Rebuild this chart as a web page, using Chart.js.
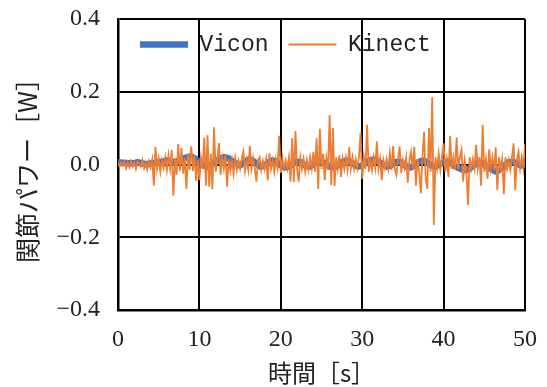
<!DOCTYPE html>
<html>
<head>
<meta charset="utf-8">
<script src="https://cdn.jsdelivr.net/npm/chart.js@4/dist/chart.umd.min.js"></script>
<style>
html,body{margin:0;padding:0;background:#fff;}
#wrap{width:547px;height:387px;}
</style>
</head>
<body>
<div id="wrap"><canvas id="c" width="547" height="387"></canvas></div>
<script>
// ---- data ----
const seriesNames = ["Vicon", "Kinect"];
const xTicks = [0, 10, 20, 30, 40, 50];
const yTicks = [-0.4, -0.2, 0.0, 0.2, 0.4];
const xTitle = "時間［s］";
const yTitle = "関節パワー［W］";

// Vicon: one value every 0.5 s, 0 .. 50 s
const viconStep = 0.5;
const viconValues = [
  0.006, 0.005, 0.004, 0.003, 0.004, 0.006, 0.003, 0.000, 0.003, 0.004,
  0.006, 0.008, 0.011, 0.008, 0.006, 0.011, 0.016, 0.020, 0.022, 0.016,
  0.007, -0.003, -0.007, 0.000, 0.008, 0.016, 0.020, 0.018, 0.010, 0.003,
  -0.003, 0.006, 0.013, 0.011, 0.003, -0.006, -0.003, 0.006, 0.011, 0.006,
  -0.003, -0.008, -0.006, 0.003, 0.008, 0.006, -0.003, -0.006, 0.000, 0.006,
  0.008, 0.003, -0.006, -0.008, -0.003, 0.006, 0.011, 0.008, 0.000, -0.006,
  -0.003, 0.006, 0.011, 0.014, 0.008, 0.000, -0.006, -0.003, 0.006, 0.008,
  0.003, -0.006, -0.008, 0.000, 0.008, 0.011, 0.006, -0.003, -0.006, 0.000,
  0.006, 0.008, 0.003, -0.006, -0.011, -0.016, -0.014, -0.006, 0.003, 0.006,
  0.000, -0.008, -0.014, -0.020, -0.011, -0.003, 0.006, 0.008, 0.003, -0.003,
  0.000
];

// Kinect: one value every 0.2 s, 0 .. 50 s
const kinectStep = 0.2;
const kinectValues = [
  0.004, -0.006, 0.006, -0.003, 0.008,
  -0.010, 0.005, -0.008, 0.010, -0.005,
  0.006, -0.012, 0.008, 0.003, -0.006,
  0.012, -0.010, 0.006, -0.014, 0.010,
  -0.008, 0.014, -0.058, 0.048, -0.012,
  0.016, -0.020, 0.012, -0.010, 0.020,
  -0.016, 0.025, -0.012, 0.040, -0.086,
  0.018, -0.028, 0.056, -0.018, 0.045,
  -0.025, 0.018, -0.067, 0.030, -0.015,
  0.050, -0.018, 0.025, -0.045, 0.012,
  -0.043, 0.018, -0.012, 0.074, -0.058,
  0.081, -0.061, 0.030, -0.068, 0.102,
  -0.020, 0.012, 0.059, -0.028, 0.018,
  -0.012, 0.025, -0.061, 0.015, -0.018,
  0.012, -0.025, 0.018, -0.015, 0.010,
  -0.012, 0.015, 0.035, -0.018, 0.012,
  -0.015, 0.051, -0.012, 0.018, -0.010,
  -0.047, 0.012, 0.020, -0.015, 0.010,
  -0.012, 0.015, -0.043, 0.031, -0.012,
  0.012, -0.020, 0.015, -0.010, 0.079,
  -0.023, 0.018, -0.010, 0.012, -0.012,
  0.020, -0.047, 0.073, -0.049, 0.092,
  -0.012, -0.047, 0.020, -0.012, 0.015,
  -0.020, 0.012, -0.015, 0.020, -0.012,
  0.035, -0.020, 0.072, -0.067, 0.098,
  -0.012, 0.030, -0.043, 0.018, -0.015,
  0.136, -0.056, 0.100, -0.059, 0.020,
  -0.012, 0.025, -0.034, 0.015, -0.012,
  0.018, -0.015, 0.048, -0.012, 0.020,
  -0.012, 0.015, -0.010, 0.020, 0.088,
  -0.040, 0.020, -0.012, 0.109, -0.020,
  0.012, -0.015, 0.020, -0.010, 0.063,
  -0.012, 0.015, -0.043, 0.012, -0.010,
  0.015, -0.012, 0.031, -0.015, 0.051,
  -0.012, -0.029, 0.015, 0.049, -0.024,
  0.012, -0.010, 0.020, -0.050, 0.012,
  0.035, -0.012, 0.049, -0.058, 0.015,
  -0.020, -0.079, 0.020, 0.090, -0.040,
  -0.067, 0.100, -0.020, 0.185, -0.166,
  0.020, -0.012, 0.030, -0.015, 0.020,
  0.058, -0.020, 0.015, -0.035, 0.078,
  -0.012, 0.020, -0.015, 0.075, -0.012,
  0.020, 0.040, -0.047, 0.012, -0.020,
  -0.111, 0.020, -0.012, 0.015, -0.010,
  0.054, -0.012, 0.020, -0.058, 0.109,
  -0.020, 0.015, -0.040, 0.042, -0.012,
  0.020, -0.015, 0.047, -0.070, 0.020,
  -0.012, 0.015, -0.082, 0.020, -0.012,
  0.012, -0.015, 0.020, 0.058, -0.070,
  0.012, 0.035, -0.012, 0.020, -0.010,
  0.056
];

// ---- build points ----
function toPoints(values, step) {
  return values.map((v, i) => ({ x: +(i * step).toFixed(3), y: v }));
}

const serifFont = "'Liberation Serif', 'DejaVu Serif', serif";
const cjkFont = "'Noto Sans CJK JP', 'Noto Sans', sans-serif";

function fmtY(v) {
  if (Math.abs(v) < 1e-9) return "0.0";
  const s = Math.abs(v).toFixed(1);
  return (v < 0 ? "\u2212" : "") + s;
}

// keep the legend inside the plot, in one row, without reserving space
const legendInside = {
  id: 'legendInside',
  beforeLayout(chart) {
    const lg = chart.legend;
    if (lg && !lg._patchedFit) {
      const orig = lg.fit.bind(lg);
      lg.fit = function () { orig(); this.height = 0; };
      lg._patchedFit = true;
    }
  },
  afterLayout(chart) {
    const lg = chart.legend;
    if (!lg) return;
    lg.left = 120;
    lg.right = 547;
    lg.top = 13;
    lg.bottom = 60;
  }
};

new Chart(document.getElementById('c'), {
  type: 'line',
  data: {
    datasets: [
      {
        label: seriesNames[0],
        data: toPoints(viconValues, viconStep),
        borderColor: '#4472C4',
        backgroundColor: '#4472C4',
        borderWidth: 6.5,
        borderCapStyle: 'round',
        borderJoinStyle: 'round',
        pointRadius: 0,
        tension: 0,
        order: 1
      },
      {
        label: seriesNames[1],
        data: toPoints(kinectValues, kinectStep),
        borderColor: '#ED7D31',
        backgroundColor: '#ED7D31',
        borderWidth: 1.8,
        pointRadius: 0,
        tension: 0,
        order: 0
      }
    ]
  },
  plugins: [legendInside],
  options: {
    responsive: false,
    animation: false,
    devicePixelRatio: 1,
    layout: { padding: { left: 0, right: 22, top: 19, bottom: 0 } },
    plugins: {
      tooltip: { enabled: false },
      legend: {
        position: 'top',
        align: 'start',
        labels: {
          usePointStyle: true,
          pointStyle: 'line',
          pointStyleWidth: 48,
          boxHeight: 8,
          padding: 20,
          color: '#222',
          font: { family: "'Liberation Mono', monospace", size: 23 },
          sort: (a, b) => a.datasetIndex - b.datasetIndex
        }
      }
    },
    scales: {
      x: {
        type: 'linear',
        min: xTicks[0],
        max: xTicks[xTicks.length - 1],
        afterBuildTicks: s => { s.ticks = xTicks.map(v => ({ value: v })); },
        afterFit: s => { s.height = 77; s.paddingLeft = 0; s.paddingRight = 0; },
        grid: { color: '#000', lineWidth: 2, drawTicks: false },
        border: { color: '#000', width: 2.5 },
        ticks: {
          color: '#222',
          padding: 15,
          maxRotation: 0,
          font: { family: serifFont, size: 24 },
          callback: v => String(v)
        },
        title: {
          display: true,
          text: xTitle,
          color: '#222',
          font: { family: cjkFont, size: 24 },
          padding: { top: 0, bottom: 0 }
        }
      },
      y: {
        type: 'linear',
        min: yTicks[0],
        max: yTicks[yTicks.length - 1],
        afterBuildTicks: s => { s.ticks = yTicks.map(v => ({ value: v })); },
        afterFit: s => { s.width = 118; s.paddingTop = 0; s.paddingBottom = 0; },
        grid: { color: '#000', lineWidth: 2, drawTicks: false },
        border: { color: '#000', width: 2.5 },
        ticks: {
          color: '#222',
          padding: 18,
          font: { family: serifFont, size: 24 },
          callback: v => fmtY(v)
        },
        title: {
          display: true,
          text: yTitle,
          color: '#222',
          font: { family: cjkFont, size: 25 },
          padding: { top: 12, bottom: 0 }
        }
      }
    }
  }
});
</script>
</body>
</html>
